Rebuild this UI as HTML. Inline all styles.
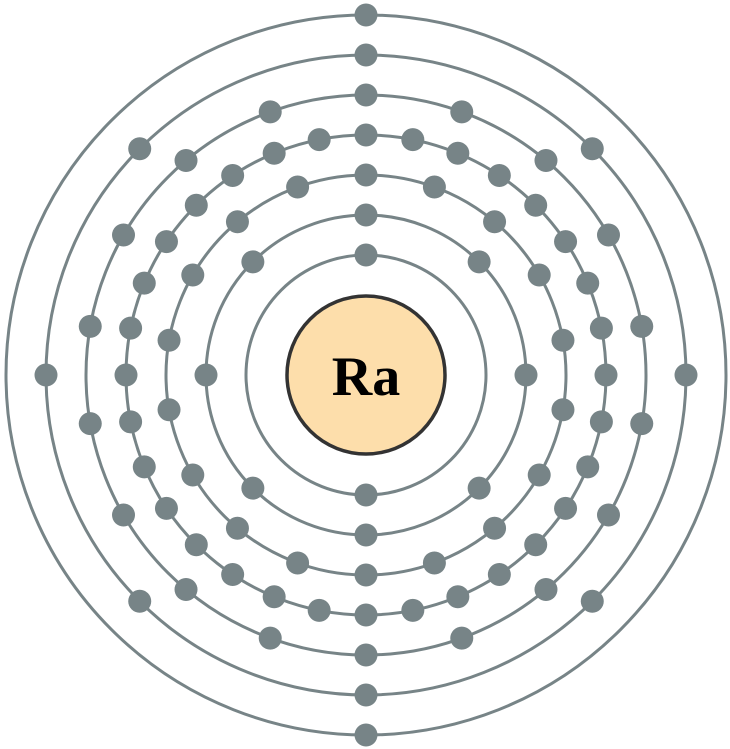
<!DOCTYPE html>
<html>
<head>
<meta charset="utf-8">
<style>
  html, body { margin:0; padding:0; background:#ffffff; }
  svg { display:block; }
</style>
</head>
<body>
<svg id="chart" width="730" height="749" viewBox="0 0 730 749" xmlns="http://www.w3.org/2000/svg">
  <g id="shells"></g>
  <g id="electrons"></g>
  <circle cx="366" cy="375" r="79" fill="#fddeab" stroke="#333333" stroke-width="3.5"/>
  <text x="366" y="395" text-anchor="middle" font-family="Liberation Serif, serif" font-weight="bold" font-size="56" fill="#000">Ra</text>
</svg>
<script>
const shellCounts = [2, 8, 18, 32, 18, 8, 2];
const shellNames = ["K", "L", "M", "N", "O", "P", "Q"];

const cx = 366, cy = 375;
function shellRadius(i) { return 120 + 40 * i; }

const NS = "http://www.w3.org/2000/svg";
const shellsG = document.getElementById("shells");
const elecG = document.getElementById("electrons");

shellCounts.forEach(function (count, i) {
  const r = shellRadius(i);
  const ring = document.createElementNS(NS, "circle");
  ring.setAttribute("cx", cx);
  ring.setAttribute("cy", cy);
  ring.setAttribute("r", r);
  ring.setAttribute("fill", "none");
  ring.setAttribute("stroke", "#778487");
  ring.setAttribute("stroke-width", "3");
  
  
  shellsG.appendChild(ring);

  for (let k = 0; k < count; k++) {
    const a = -Math.PI / 2 + (2 * Math.PI * k) / count;
    const e = document.createElementNS(NS, "circle");
    e.setAttribute("cx", (cx + r * Math.cos(a)).toFixed(2));
    e.setAttribute("cy", (cy + r * Math.sin(a)).toFixed(2));
    e.setAttribute("r", "11.5");
    e.setAttribute("fill", "#778487");
    
    
    elecG.appendChild(e);
  }
});
</script>
</body>
</html>
